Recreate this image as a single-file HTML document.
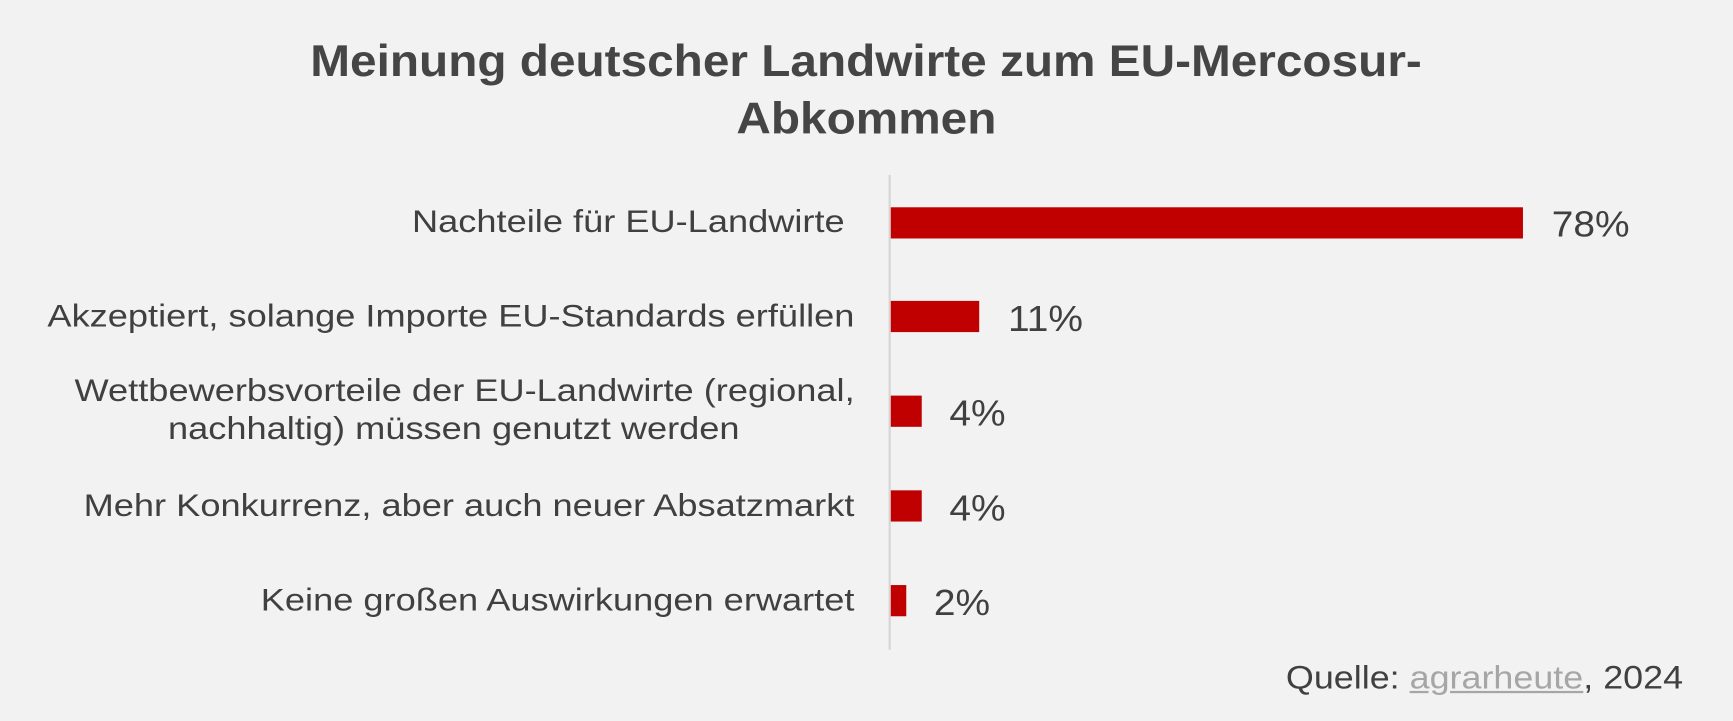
<!DOCTYPE html>
<html><head><meta charset="utf-8"><style>
html,body{margin:0;padding:0;background:#f2f2f2;overflow:hidden}
#w{position:absolute;left:0;top:0;width:1568px;height:647px;transform-origin:0 0;transform:scale(1.1052,1.1144);font-family:"Liberation Sans",sans-serif;color:#404040}
.t{position:absolute;left:0;width:1568px;text-align:center;font-weight:bold;font-size:40px;color:#454545}
.t span{display:inline-block;transform:scaleX(1.08)}
.l{position:absolute;right:795px;text-align:right;font-size:28px;line-height:34px;white-space:nowrap;transform-origin:100% 50%;transform:scaleX(1.17)}
.b{position:absolute;left:806px;height:28px;background:#c00000}
.v{position:absolute;font-size:32px;line-height:34px;transform-origin:0 50%;transform:scaleX(1.1)}
</style></head><body><div id="w">
<div class="t" style="top:33px"><span>Meinung deutscher Landwirte zum EU-Mercosur-</span></div>
<div class="t" style="top:85px"><span>Abkommen</span></div>
<div style="position:absolute;left:804px;top:157px;width:2px;height:426px;background:#d6d6d6"></div>
<div class="l" style="top:182px">Nachteile für EU-Landwirte&nbsp;</div>
<div class="l" style="top:267px">Akzeptiert, solange Importe EU-Standards erfüllen</div>
<div class="l" style="top:334px">Wettbewerbsvorteile der EU-Landwirte (regional,<br><span style="margin-right:89px">nachhaltig) müssen genutzt werden</span></div>
<div class="l" style="top:437px">Mehr Konkurrenz, aber auch neuer Absatzmarkt</div>
<div class="l" style="top:522px">Keine großen Auswirkungen erwartet</div>
<div class="b" style="top:186px;width:572px"></div>
<div class="b" style="top:270px;width:80px"></div>
<div class="b" style="top:355px;width:28px"></div>
<div class="b" style="top:440px;width:28px"></div>
<div class="b" style="top:525px;width:14px"></div>
<div class="v" style="left:1404px;top:184px">78%</div>
<div class="v" style="left:912px;top:269px">11%</div>
<div class="v" style="left:859px;top:354px">4%</div>
<div class="v" style="left:859px;top:439px">4%</div>
<div class="v" style="left:845px;top:524px">2%</div>
<div style="position:absolute;right:45px;top:593px;font-size:29px;transform-origin:100% 50%;transform:scaleX(1.12)">Quelle: <span style="color:#a6a6a6;text-decoration:underline">agrarheute</span>, 2024</div>
</div></body></html>
